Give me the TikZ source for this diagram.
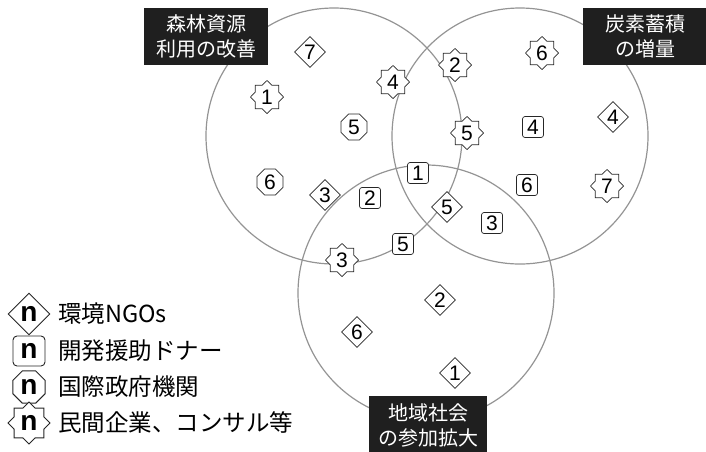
\documentclass[tikz,border=0pt]{standalone}
\usepackage{fontspec}
\setmainfont{Liberation Sans}
\newfontfamily\jpfont{Noto Sans CJK JP}
\usepackage{tikz}
\usetikzlibrary{
shapes,
shapes.geometric,
positioning
}

\tikzset{
  ring/.style={draw=black!42, line width=1.2pt, circle, minimum size=256pt, inner sep=0pt},
  goal/.style={fill=black!88, text=white, align=center, inner sep=0pt,
    font=\jpfont\fontsize{20}{25}\selectfont},
  mk/.style={draw=black!85, fill=white, line width=0.7pt, inner sep=0pt,
    font=\fontsize{21}{21}\selectfont},
  ngo/.style={mk, diamond, minimum size=31pt},
  donor/.style={mk, rounded corners=2.5pt, minimum width=21pt, minimum height=21pt},
  intl/.style={mk, regular polygon, regular polygon sides=8, minimum size=28pt},
  firm/.style={mk, star, star points=8, star point ratio=1.3, minimum size=33pt},
  key/.style={font=\bfseries\fontsize{28}{28}\selectfont, line width=0.9pt},
  keytext/.style={anchor=west, inner sep=0pt, font=\jpfont\fontsize{23.5}{23.5}\selectfont}
}

\begin{document}
\begin{tikzpicture}[x=1pt,y=-1pt]
  \useasboundingbox (0,0) rectangle (706,451);

  % the three aims
  \node[ring] (forest) at (334,136) {};
  \node[ring] (carbon) at (520,136) {};
  \node[ring] (local) at (426,293) {};

  \node[goal, minimum width=124pt, minimum height=57pt] (forest-lbl) at (206,36.5) {森林資源\\利用の改善};
  \node[goal, minimum width=124pt, minimum height=57pt] (carbon-lbl) at (645,36.5) {炭素蓄積\\の増量};
  \node[goal, minimum width=118pt, minimum height=58pt] (local-lbl) at (428,425) {地域社会\\の参加拡大};

  % actors
  \foreach \n/\x/\y in {7/310/52, 3/325/195, 5/447/207, 4/613/117, 2/440/300, 6/357/332, 1/455/373}
    \node[ngo] (ngo-\n) at (\x,\y) {\n};
  \foreach \n/\x/\y in {1/418/173, 2/370/198, 5/403/244, 3/492/223, 4/533/127, 6/527/185}
    \node[donor] (donor-\n) at (\x,\y) {\n};
  \foreach \n/\x/\y in {5/354/127, 6/270/182}
    \node[intl] (intl-\n) at (\x,\y) {\n};
  \foreach \n/\x/\y in {1/267/97, 4/393/82, 2/455/65, 6/542/53, 5/467/133, 3/342/260, 7/607/186}
    \node[firm] (firm-\n) at (\x,\y) {\n};

  % legend
  \node[ngo, key, minimum size=42pt] (key-ngo) at (29,314) {n};
  \node[donor, key, minimum width=32pt, minimum height=30pt, rounded corners=4pt] (key-donor) at (29,351) {n};
  \node[intl, key, minimum size=35pt] (key-intl) at (29,387) {n};
  \node[firm, key, minimum size=42pt] (key-firm) at (29,423) {n};

  \node[keytext] (txt-ngo) at (58,314) {環境NGOs};
  \node[keytext] (txt-donor) at (58,351) {開発援助ドナー};
  \node[keytext] (txt-intl) at (58,387) {国際政府機関};
  \node[keytext] (txt-firm) at (58,423) {民間企業、コンサル等};
\end{tikzpicture}
\end{document}
